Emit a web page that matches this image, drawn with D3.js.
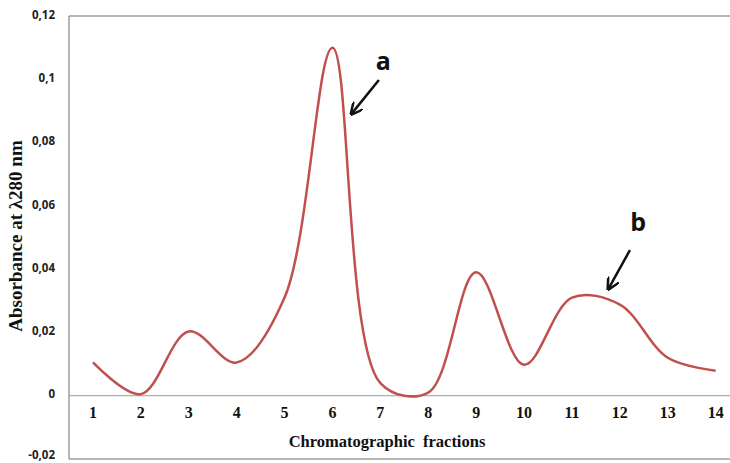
<!DOCTYPE html>
<html lang="en">
<head>
    <meta charset="UTF-8">
    <title>Chromatographic fractions</title>
    <script src="https://d3js.org/d3.v7.min.js"></script>
    <style>
        body { margin: 0; background: #fff; }
        .curve { fill: none; stroke: #c0504d; stroke-width: 2.5px; }
        .ytick text { font-family: "Open Sans", sans-serif; font-weight: bold; font-size: 11.5px; fill: #222; }
        .xtick text { font-family: "Liberation Serif", "Times New Roman", serif; font-weight: bold; font-size: 16px; fill: #111; }
        .title { font-family: "Liberation Serif", "Times New Roman", serif; font-weight: bold; fill: #111; }
        .note { font-family: "Open Sans", sans-serif; font-weight: bold; font-size: 25px; fill: #111; }
    </style>
</head>
<body>
    <svg width="730" height="463"></svg>
    <script>
const fractions = [1, 2, 3, 4, 5, 6, 7, 8, 9, 10, 11, 12, 13, 14];
const absorbance = [0.0105, 0.0005, 0.0203, 0.0105, 0.031, 0.110, 0.004, 0.001, 0.039, 0.0098, 0.031, 0.0288, 0.012, 0.0079];
const yTicks = [-0.02, 0, 0.02, 0.04, 0.06, 0.08, 0.1, 0.12];
const notes = [
    { label: "a", text: [7.06, 0.1029], from: [6.97, 0.0998], to: [6.41, 0.0893] },
    { label: "b", text: [12.38, 0.052], from: [12.21, 0.046], to: [11.77, 0.034] }
];

const svg = d3.select("svg");
const plotLeft = 69, plotTop = 16, plotBottom = 459;
const step = 47.9;

const x = d3.scaleBand()
    .domain(fractions)
    .range([plotLeft, plotLeft + step * fractions.length])
    .padding(0);
const xv = d3.scaleLinear()
    .domain([0.5, fractions.length + 0.5])
    .range([plotLeft, plotLeft + step * fractions.length]);
const y = d3.scaleLinear().domain([-0.02, 0.12]).range([plotBottom, plotTop]);

// plot area border (right side runs off the picture)
svg.append("path")
    .attr("d", `M730,${plotTop}H${plotLeft}V${plotBottom}H730`)
    .attr("fill", "none")
    .attr("stroke", "#6e6e6e")
    .attr("stroke-width", 1);

// y axis labels
const yAxis = d3.axisLeft(y)
    .tickValues(yTicks)
    .tickSize(0)
    .tickPadding(14)
    .tickFormat(d => String(+d.toFixed(2)).replace(".", ","));
svg.append("g")
    .attr("class", "ytick")
    .attr("transform", `translate(${plotLeft},-1.5)`)
    .call(yAxis)
    .call(g => g.select(".domain").remove())
    .call(g => g.selectAll(".tick text").filter(d => d < 0).attr("dy", "0.05em"));

// zero line with category labels
const xAxis = d3.axisBottom(x).tickSize(0).tickPadding(11);
svg.append("g")
    .attr("class", "xtick")
    .attr("transform", `translate(0,${y(0)})`)
    .call(xAxis)
    .call(g => g.select(".domain").attr("stroke", "#9a9a9a").attr("d", `M${plotLeft},0H730`));

const line = d3.line()
    .x((d, i) => x(fractions[i]) + x.bandwidth() / 2)
    .y(d => y(d))
    .curve(d3.curveCatmullRom.alpha(0.5));

svg.append("path")
    .datum(absorbance)
    .attr("class", "curve")
    .attr("d", line);

// axis titles
svg.append("text")
    .attr("class", "title")
    .attr("x", 387).attr("y", 447)
    .attr("text-anchor", "middle")
    .attr("font-size", 16.5)
    .attr("word-spacing", 4)
    .text("Chromatographic fractions");

svg.append("text")
    .attr("class", "title")
    .attr("transform", "translate(22,236) rotate(-90)")
    .attr("text-anchor", "middle")
    .attr("font-size", 19)
    .text("Absorbance at λ280 nm");

// annotations
const defs = svg.append("defs");
defs.append("marker")
    .attr("id", "head")
    .attr("viewBox", "0 0 10 10")
    .attr("refX", 8).attr("refY", 5)
    .attr("markerWidth", 5).attr("markerHeight", 5)
    .attr("orient", "auto")
    .append("path")
    .attr("d", "M0,0L10,5L0,10")
    .attr("fill", "none")
    .attr("stroke", "#111")
    .attr("stroke-width", 2);

notes.forEach(n => {
    svg.append("line")
        .attr("x1", xv(n.from[0])).attr("y1", y(n.from[1]))
        .attr("x2", xv(n.to[0])).attr("y2", y(n.to[1]))
        .attr("stroke", "#111")
        .attr("stroke-width", 2.5)
        .attr("marker-end", "url(#head)");
    svg.append("text")
        .attr("class", "note")
        .attr("x", xv(n.text[0])).attr("y", y(n.text[1]))
        .attr("text-anchor", "middle")
        .text(n.label);
});
    </script>
</body>
</html>
